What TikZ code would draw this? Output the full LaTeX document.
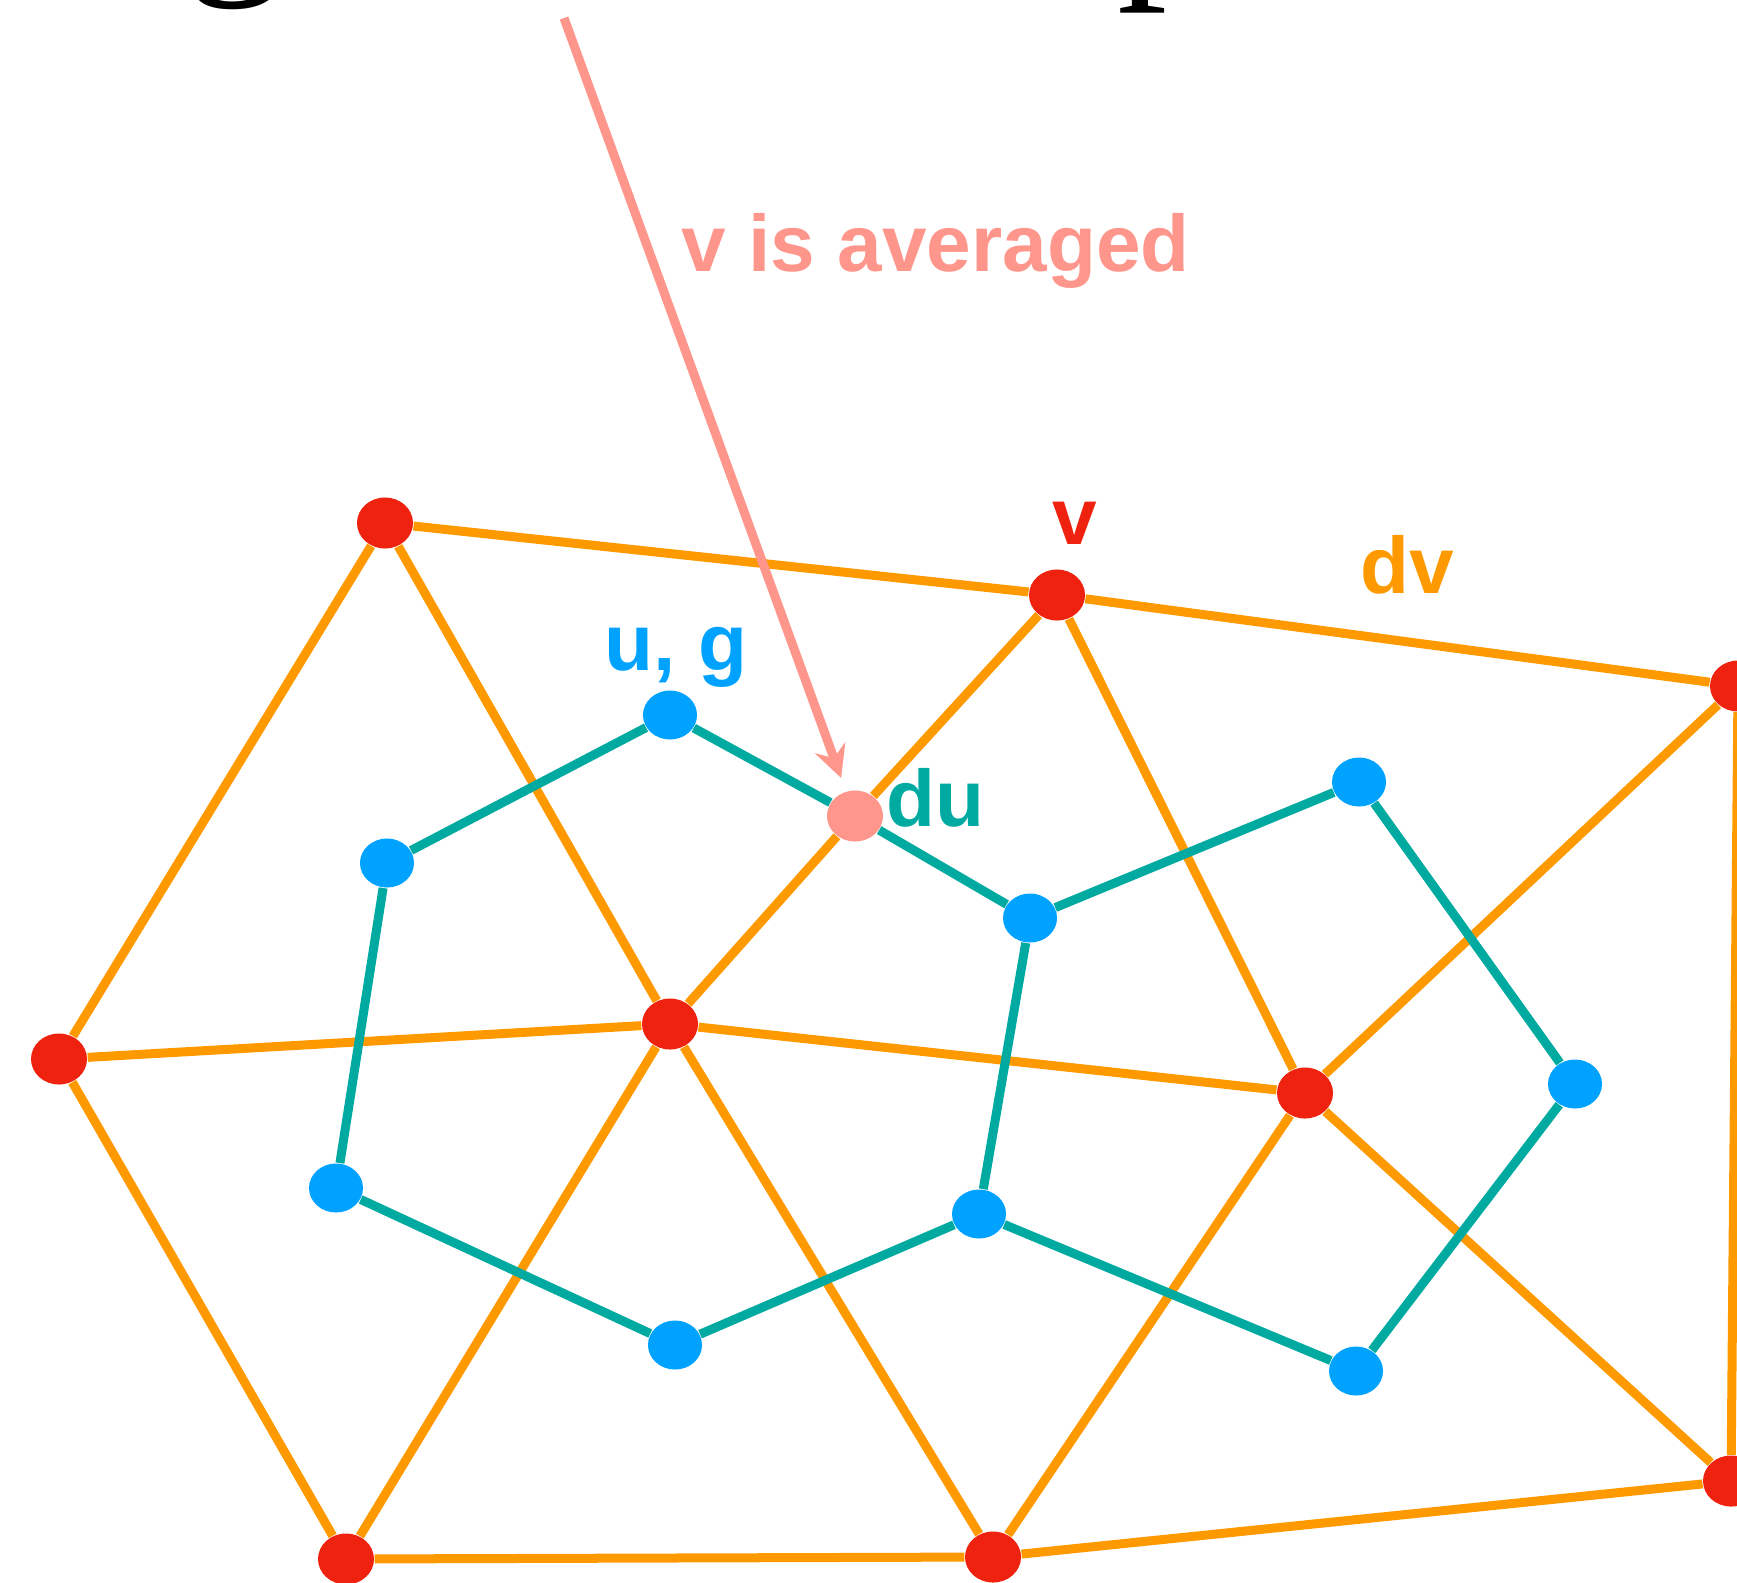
\documentclass[tikz,border=0pt]{standalone}
\usepackage{fontspec}
\setmainfont{Liberation Sans}
\newfontfamily\titleserif{Liberation Serif}
\usetikzlibrary{shapes.geometric,arrows.meta}
\definecolor{orangeL}{RGB}{255,153,0}
\definecolor{redN}{RGB}{238,34,14}
\definecolor{blueN}{RGB}{0,162,255}
\definecolor{tealL}{RGB}{0,170,160}
\definecolor{pinkA}{RGB}{255,150,140}
\pgfdeclarelayer{bg}
\pgfsetlayers{bg,main}
\tikzset{
  vert/.style={ellipse,inner sep=0pt,minimum width=0.56cm,minimum height=0.51cm,draw=none},
  rnode/.style={vert,fill=redN},
  bnode/.style={vert,fill=blueN,minimum width=0.54cm,minimum height=0.49cm},
  pnode/.style={vert,fill=pinkA},
  oedge/.style={draw=orangeL,line width=0.09cm},
  tedge/.style={draw=tealL,line width=0.09cm},
  parrow/.style={draw=pinkA,line width=0.09cm,-{Stealth[length=0.32cm,width=0.32cm,inset=0.11cm]}},
  lbl/.style={anchor=base west,inner sep=0pt,font=\fontsize{22.8}{27}\selectfont\bfseries},
  titlefrag/.style={anchor=base,inner sep=0pt,font=\titleserif\fontsize{57}{60}\selectfont,text=black}
}
\begin{document}
\begin{tikzpicture}[x=0.01cm,y=-0.01cm]
\useasboundingbox (0,0) rectangle (1737,1582);
\clip (0,0) rectangle (1737,1582);

% cropped title fragments
\node[titlefrag] (t1) at (236,-33) {g};
\node[titlefrag] (t2) at (1168,-29) {p};

% red vertices
\node[rnode] (R1) at (385,523) {};
\node[rnode] (R2) at (1057,595) {};
\node[rnode] (R3) at (1738,686) {};
\node[rnode] (R4) at (59,1059) {};
\node[rnode] (R5) at (670,1024) {};
\node[rnode] (R6) at (1305,1093) {};
\node[rnode] (R7) at (346,1559) {};
\node[rnode] (R8) at (993,1557) {};
\node[rnode] (R9) at (1731,1481) {};

% blue vertices
\node[bnode] (B1) at (670,715) {};
\node[bnode] (B2) at (387,863) {};
\node[bnode] (B3) at (1030,918) {};
\node[bnode] (B4) at (1359,782) {};
\node[bnode] (B5) at (1575,1084) {};
\node[bnode] (B6) at (336,1188) {};
\node[bnode] (B7) at (979,1214) {};
\node[bnode] (B8) at (675,1345) {};
\node[bnode] (B9) at (1356,1371) {};

% averaged vertex
\node[pnode] (P) at (855,816) {};

\begin{pgfonlayer}{bg}
\foreach \a/\b in {R1/R2,R2/R3,R1/R4,R1/R5,R2/P,P/R5,R2/R6,R3/R6,R3/R9,R4/R5,R4/R7,R5/R6,R5/R7,R5/R8,R6/R8,R6/R9,R7/R8,R8/R9}
  \draw[oedge] (\a) -- (\b);
\foreach \a/\b in {B2/B1,B1/P,P/B3,B3/B4,B4/B5,B5/B9,B9/B7,B7/B3,B7/B8,B8/B6,B6/B2}
  \draw[tedge] (\a) -- (\b);
\end{pgfonlayer}

% arrow
\coordinate (As) at (564,18);
\draw[parrow,shorten >=0.14cm] (As) -- (P);

% labels
\node[lbl,text=pinkA] (Lavg) at (681,271) {v is averaged};
\node[lbl,text=blueN] (Lug) at (604,670) {u, g};
\node[lbl,text=tealL] (Ldu) at (886,826) {du};
\node[lbl,text=redN] (Lv) at (1052,544) {v};
\node[lbl,text=orangeL] (Ldv) at (1360,593) {dv};
\end{tikzpicture}
\end{document}
